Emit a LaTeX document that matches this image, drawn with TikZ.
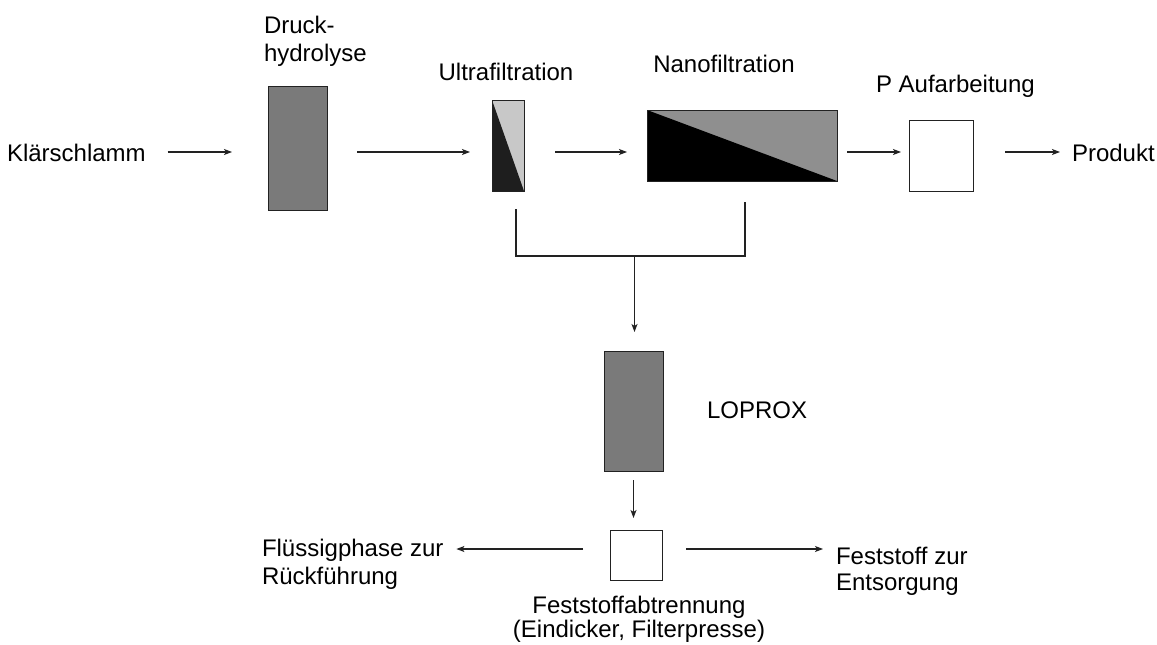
\documentclass[tikz,border=0pt]{standalone}
\usepackage{fontspec}
\setmainfont{Liberation Sans}
\usetikzlibrary{arrows.meta}
\definecolor{boxgray}{HTML}{7A7A7A}
\definecolor{ufdark}{HTML}{1E1E1E}
\definecolor{uflight}{HTML}{C8C8C8}
\definecolor{nfgray}{HTML}{8F8F8F}
\definecolor{linecol}{HTML}{222222}
\begin{document}
\begin{tikzpicture}[x=1pt,y=-1pt,
  every node/.style={inner sep=0pt,outer sep=0pt,font=\fontsize{24}{28}\selectfont},
  unit/.style={draw=linecol,line width=1pt,rectangle,minimum width=#1},
  arr/.style={draw=linecol,line width=1.1pt,-{Stealth[length=8pt,width=6pt,inset=2pt]}},
  conn/.style={draw=linecol,line width=1.1pt},
  lbl/.style={align=left,anchor=north west},
  clbl/.style={align=center,anchor=north}]
\useasboundingbox (0,0) rectangle (1157,645);
\fill[white] (0,0) rectangle (1157,645);
\coordinate (flow) at (0,152);

% process units
\node[unit=59pt,minimum height=124pt,fill=boxgray] (dh) at (297.5,148) {};
\node[unit=32pt,minimum height=91pt,fill=uflight] (uf) at (508,145.5) {};
\fill[ufdark] (uf.north west) -- (uf.south east) -- (uf.south west) -- cycle;
\draw[linecol,line width=1pt] (uf.north west) rectangle (uf.south east);
\node[unit=190pt,minimum height=71pt,fill=nfgray] (nf) at (742,145.5) {};
\fill[black] (nf.north west) -- (nf.south east) -- (nf.south west) -- cycle;
\draw[linecol,line width=1pt] (nf.north west) rectangle (nf.south east);
\node[unit=64pt,minimum height=71pt,fill=white] (pa) at (941,155.5) {};
\node[unit=59pt,minimum height=120pt,fill=boxgray] (lp) at (633.5,411) {};
\node[unit=52pt,minimum height=50pt,fill=white] (fs) at (636,555) {};

% labels
\node[anchor=base west] (ks) at (7,161) {Klärschlamm};
\node[lbl] (dhl) at (264,16) {Druck-\\hydrolyse};
\node[anchor=base] (ufl) at (506,80) {Ultrafiltration};
\node[anchor=base] (nfl) at (724,72) {Nanofiltration};
\node[anchor=base west] (pal) at (876,92) {P Aufarbeitung};
\node[anchor=base west] (pr) at (1072,161) {Produkt};
\node[anchor=base west] (lpl) at (707,418) {LOPROX};
\node[lbl] (fl) at (262,539) {Flüssigphase zur\\Rückführung};
\node[lbl,font=\fontsize{24}{26}\selectfont] (fe) at (836,547) {Feststoff zur\\Entsorgung};
\node[clbl,font=\fontsize{24}{24}\selectfont] (fsl) at (639,596) {Feststoffabtrennung\\(Eindicker, Filterpresse)};

% main flow
\draw[arr,shorten <=22pt,shorten >=36pt] (ks.east |- flow) -- (dh.west |- flow);
\draw[arr,shorten <=30pt,shorten >=22pt] (dh.east |- flow) -- (uf.west |- flow);
\draw[arr,shorten <=31pt,shorten >=20pt] (uf.east |- flow) -- (nf.west |- flow);
\draw[arr,shorten <=10pt,shorten >=8pt] (nf.east |- flow) -- (pa.west |- flow);
\draw[arr,shorten <=32pt,shorten >=12pt] (pa.east |- flow) -- (pr.west |- flow);

% concentrates to LOPROX
\coordinate (jn) at (634.5,256);
\draw[conn] ([shift={(8,18)}]uf.south) |- ([shift={(3,75)}]nf.south) -- ([shift={(3,21)}]nf.south);
\draw[arr,shorten >=19pt] (jn) -- (jn |- lp.north);
\draw[arr,shorten <=9pt,shorten >=12pt] (lp.south) -- (lp.south |- fs.north);

% solid/liquid separation
\draw[arr,shorten <=27pt,shorten >=13pt] ([yshift=6]fs.west) -- ([yshift=6]fs.west -| fl.east);
\draw[arr,shorten <=24pt,shorten >=13pt] ([yshift=6]fs.east) -- ([yshift=6]fs.east -| fe.west);
\end{tikzpicture}
\end{document}
